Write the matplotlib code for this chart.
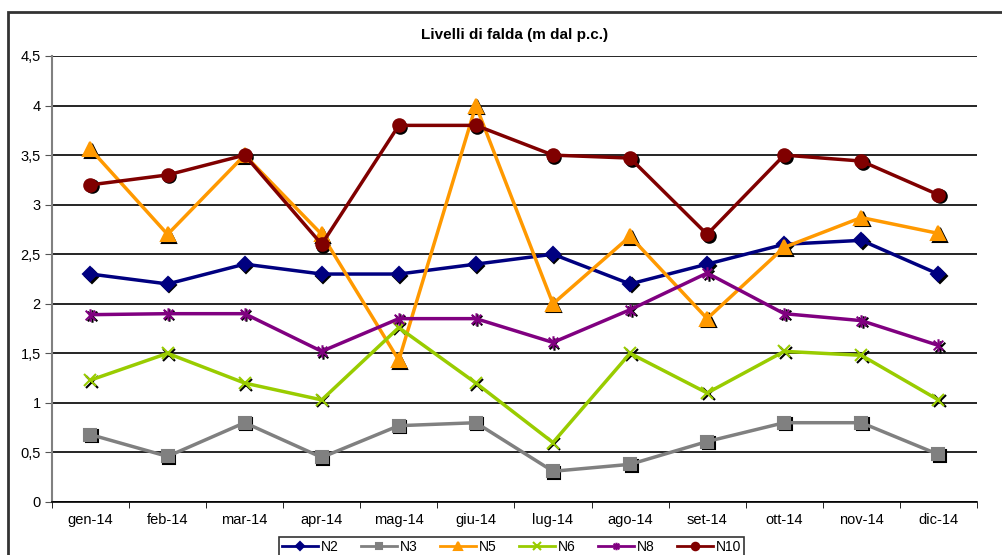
import numpy as np
import matplotlib
matplotlib.use("Agg")
import matplotlib.pyplot as plt
from matplotlib.path import Path
from matplotlib.patches import Rectangle
from matplotlib.transforms import offset_copy

plt.rcParams["font.family"] = ["Liberation Sans", "DejaVu Sans"]

months = ["gen-14", "feb-14", "mar-14", "apr-14", "mag-14", "giu-14",
          "lug-14", "ago-14", "set-14", "ott-14", "nov-14", "dic-14"]

n2 = [2.30, 2.20, 2.40, 2.30, 2.30, 2.40, 2.50, 2.20, 2.40, 2.60, 2.64, 2.30]
n3 = [0.68, 0.46, 0.80, 0.45, 0.77, 0.80, 0.31, 0.38, 0.61, 0.80, 0.80, 0.48]
n5 = [3.56, 2.70, 3.50, 2.70, 1.43, 4.00, 2.00, 2.68, 1.85, 2.57, 2.87, 2.71]
n6 = [1.23, 1.50, 1.20, 1.03, 1.76, 1.20, 0.60, 1.50, 1.10, 1.52, 1.48, 1.03]
n8 = [1.89, 1.90, 1.90, 1.52, 1.85, 1.85, 1.61, 1.94, 2.31, 1.90, 1.83, 1.58]
n10 = [3.20, 3.30, 3.50, 2.60, 3.80, 3.80, 3.50, 3.47, 2.70, 3.50, 3.44, 3.10]

# asterisk marker: an x with a vertical stroke through it
star = Path([(-1, -1), (1, 1), (-1, 1), (1, -1), (0, -1.3), (0, 1.3)],
            [Path.MOVETO, Path.LINETO, Path.MOVETO, Path.LINETO,
             Path.MOVETO, Path.LINETO])

series = [
    ("N2", n2, "#000080", "D", 7),
    ("N3", n3, "#808080", "s", 8),
    ("N5", n5, "#FF9900", "^", 10),
    ("N6", n6, "#99CC00", "x", 9),
    ("N8", n8, "#800080", star, 9),
    ("N10", n10, "#800000", "o", 9),
]

fig = plt.figure(figsize=(10.03, 5.55), dpi=100)
ax = fig.add_axes([0.0518, 0.0955, 0.9222, 0.8036])

# outer chart frame (runs off the right and bottom edges)
fig.patches.append(Rectangle((8 / 1003, -0.05), 1.2, 1 - 12 / 555 + 0.05,
                             transform=fig.transFigure, fill=False,
                             edgecolor="#333333", lw=2.0, zorder=0))

x = np.arange(len(months))
shadow = offset_copy(ax.transData, fig=fig, x=1.5, y=-1.5, units="dots")

for name, vals, col, mk, ms in series:
    # black drop shadow behind each marker
    ax.plot(x, vals, ls="none", marker=mk, ms=ms, color="black",
            mec="black", mew=1.5, transform=shadow, zorder=3)
    ax.plot(x, vals, "-", marker=mk, ms=ms, color=col, mec=col, mfc=col,
            mew=1.5, lw=2.5, label=name, zorder=4)

ax.set_xlim(-0.5, 11.5)
ax.set_ylim(0, 4.5)
ax.set_yticks(np.arange(0, 4.51, 0.5))
ax.set_yticklabels([f"{v:g}".replace(".", ",") for v in np.arange(0, 4.51, 0.5)])
ax.set_xticks(x)
ax.set_xticklabels(months)
ax.set_xticks(np.arange(-0.5, 12, 1), minor=True)
ax.tick_params(axis="x", which="major", length=0, pad=8, labelsize=10.5)
ax.tick_params(axis="x", which="minor", length=4, direction="out", color="black")
ax.tick_params(axis="y", length=5, direction="out", color="#555555",
               labelsize=10.5, pad=3)

ax.grid(True, axis="y", color="black", lw=1.2)
ax.set_axisbelow(True)
for s in ("top", "right"):
    ax.spines[s].set_visible(False)
ax.spines["left"].set_color("#808080")
ax.spines["left"].set_linewidth(1.5)
ax.spines["bottom"].set_color("black")
ax.spines["bottom"].set_linewidth(1.2)

fig.text(0.513, 1 - 35 / 555, "Livelli di falda (m dal p.c.)",
         ha="center", va="center", fontsize=11, fontweight="bold")

leg = fig.legend(loc="upper center", bbox_to_anchor=(0.51, 1 - 537 / 555),
                 ncol=6, frameon=True, fancybox=False, fontsize=10,
                 handlelength=2.6, columnspacing=1.6, handletextpad=0.2,
                 borderpad=0.2, borderaxespad=0, markerscale=0.6)
leg.get_frame().set_edgecolor("black")
leg.get_frame().set_linewidth(1.2)
for line in leg.get_lines():
    line.set_linewidth(2.0)

fig.savefig("out.png", dpi=100)
